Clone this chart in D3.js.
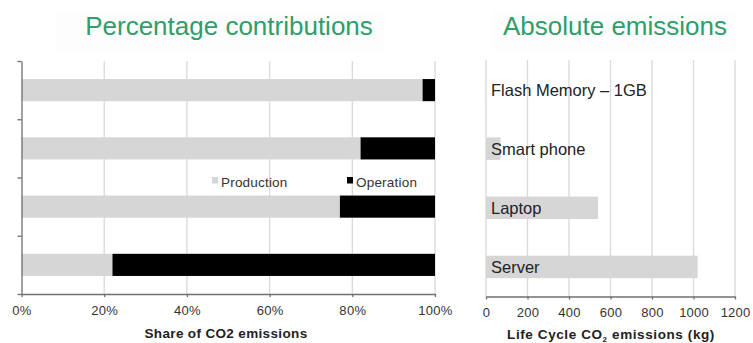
<!DOCTYPE html>
<html>
<head>
<meta charset="utf-8">
<script src="https://cdn.jsdelivr.net/npm/d3@7"></script>
<style>
  html, body { margin: 0; padding: 0; background: #fff; }
  svg { display: block; }
  text { font-family: "Liberation Sans", Arial, sans-serif; }
</style>
</head>
<body>
<svg id="chart" width="753" height="343"></svg>
<script>
// Devices, top to bottom
const devices = ["Flash Memory – 1GB", "Smart phone", "Laptop", "Server"];
// Share of life-cycle CO2 (%)
const productionShare = [97, 82, 77, 22];
const operationShare  = [3, 18, 23, 78];
// Life-cycle CO2 emissions (kg)
const absoluteKg = [1, 70, 540, 1020];
// Axis ticks
const shareTicks = [0, 20, 40, 60, 80, 100];
const kgTicks = [0, 200, 400, 600, 800, 1000, 1200];
const legendItems = ["Production", "Operation"];

const svg = d3.select("#chart");
const green = "#2f9e69";
const gridColor = "#d9d9d9";
const barGray = "#d6d6d6";
const axisColor = "#6f6f6f";

// ---------- Left panel: percentage contributions ----------
const L = { x0: 21.5, x1: 435, y0: 61, y1: 294 };
const xShare = d3.scaleLinear().domain([0, 100]).range([L.x0, L.x1]);
const yDev = d3.scaleBand().domain(devices).range([L.y0, L.y1]).paddingInner(0.62).paddingOuter(0.31);

// faint title panel
svg.append("rect").attr("x", 57).attr("y", 12).attr("width", 328).attr("height", 38).attr("fill", "#fdfdfd");
svg.append("text").attr("x", 229).attr("y", 35).attr("text-anchor", "middle")
  .attr("font-size", 26).attr("fill", green).text("Percentage contributions");

const left = svg.append("g");
left.append("g").selectAll("line").data(shareTicks.slice(1)).join("line")
  .attr("x1", d => xShare(d)).attr("x2", d => xShare(d))
  .attr("y1", L.y0).attr("y2", L.y1)
  .attr("stroke", gridColor).attr("stroke-width", 1.3);

const rows = devices.map((d, i) => ({ name: d, prod: productionShare[i], op: operationShare[i] }));
left.append("g").selectAll("rect").data(rows).join("rect")
  .attr("x", xShare(0)).attr("y", d => yDev(d.name))
  .attr("width", d => xShare(d.prod) - xShare(0)).attr("height", yDev.bandwidth())
  .attr("fill", barGray);
left.append("g").selectAll("rect").data(rows).join("rect")
  .attr("x", d => xShare(d.prod)).attr("y", d => yDev(d.name))
  .attr("width", d => xShare(d.prod + d.op) - xShare(d.prod)).attr("height", yDev.bandwidth())
  .attr("fill", "#000");

// category axis with ticks on band boundaries
const yEdge = d3.scaleLinear().domain([0, devices.length]).range([L.y1, L.y0]);
const yAxisG = left.append("g").attr("transform", `translate(${L.x0},0)`)
  .call(d3.axisLeft(yEdge).tickValues(d3.range(devices.length + 1)).tickFormat("").tickSize(4).tickSizeOuter(0));
yAxisG.selectAll("path, line").attr("stroke", axisColor).attr("stroke-width", 1.3);

const xAxisL = left.append("g").attr("transform", `translate(0,${L.y1})`)
  .call(d3.axisBottom(xShare).tickValues(shareTicks).tickFormat(d => d + "%").tickSize(3).tickSizeOuter(0));
xAxisL.selectAll("path, line").attr("stroke", axisColor).attr("stroke-width", 1.3);
xAxisL.selectAll("text").attr("font-size", 13).attr("fill", "#333").attr("dy", "1.15em")
  .attr("letter-spacing", 0.3).attr("font-family", "Liberation Sans, Arial, sans-serif");

left.append("text").attr("x", 226).attr("y", 338).attr("text-anchor", "middle")
  .attr("font-size", 13.5).attr("font-weight", "bold").attr("fill", "#222").attr("letter-spacing", 0.35)
  .text("Share of CO2 emissions");

// legend
const legendX = [212, 347];
const legendColors = [barGray, "#000"];
const lg = left.append("g").selectAll("g").data(legendItems).join("g")
  .attr("transform", (d, i) => `translate(${legendX[i]},177)`);
lg.append("rect").attr("width", 6).attr("height", 6.5).attr("fill", (d, i) => legendColors[i]);
lg.append("text").attr("x", 9).attr("y", 9.5).attr("font-size", 13.5).attr("fill", "#333")
  .attr("letter-spacing", 0.2).text(d => d);

// ---------- Right panel: absolute emissions ----------
const R = { x0: 486, x1: 735, y0: 60, y1: 296.5 };
const xKg = d3.scaleLinear().domain([0, 1200]).range([R.x0, R.x1]);
const yDevR = d3.scaleBand().domain(devices).range([R.y0, R.y1]).paddingInner(0.62).paddingOuter(0.31);

svg.append("rect").attr("x", 493).attr("y", 12).attr("width", 244).attr("height", 38).attr("fill", "#fdfdfd");
svg.append("text").attr("x", 615).attr("y", 35).attr("text-anchor", "middle")
  .attr("font-size", 26).attr("fill", green).text("Absolute emissions");

const right = svg.append("g");
right.append("g").selectAll("line").data(kgTicks).join("line")
  .attr("x1", d => xKg(d)).attr("x2", d => xKg(d))
  .attr("y1", R.y0).attr("y2", R.y1)
  .attr("stroke", gridColor).attr("stroke-width", 1.3);

const absRows = devices.map((d, i) => ({ name: d, kg: absoluteKg[i] }));
right.append("g").selectAll("rect").data(absRows).join("rect")
  .attr("x", xKg(0)).attr("y", d => yDevR(d.name))
  .attr("width", d => xKg(d.kg) - xKg(0)).attr("height", yDevR.bandwidth())
  .attr("fill", barGray);

right.append("g").selectAll("text").data(absRows).join("text")
  .attr("x", xKg(0) + 5).attr("y", d => yDevR(d.name) + yDevR.bandwidth() / 2 + 6)
  .attr("font-family", "Lato, 'Open Sans', sans-serif").attr("font-size", 16.5).attr("font-weight", 300)
  .attr("fill", "#222").text(d => d.name);

const xAxisR = right.append("g").attr("transform", `translate(0,${R.y1})`)
  .call(d3.axisBottom(xKg).tickValues(kgTicks).tickFormat(d3.format("d")).tickSize(3).tickSizeOuter(0));
xAxisR.selectAll("path, line").attr("stroke", axisColor).attr("stroke-width", 1.3);
xAxisR.selectAll("text").attr("font-size", 13).attr("fill", "#333").attr("dy", "1.15em")
  .attr("letter-spacing", 0.2).attr("font-family", "Liberation Sans, Arial, sans-serif");

const rt = right.append("text").attr("x", 611).attr("y", 339).attr("text-anchor", "middle")
  .attr("font-size", 13.5).attr("font-weight", "bold").attr("fill", "#222").attr("letter-spacing", 0.6);
rt.append("tspan").text("Life Cycle CO");
rt.append("tspan").attr("font-size", 8).attr("dy", 3).text("2");
rt.append("tspan").attr("dy", -3).text(" emissions (kg)");
</script>
</body>
</html>
